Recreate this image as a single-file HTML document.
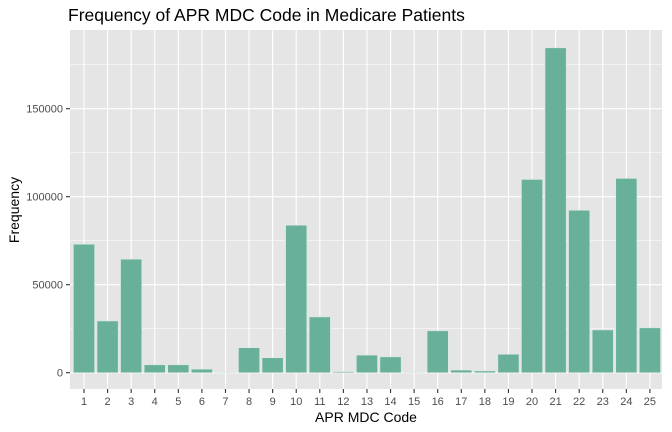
<!DOCTYPE html>
<html><head><meta charset="utf-8"><style>body{margin:0;background:#fff}svg{display:block;font-family:"Liberation Sans",sans-serif}</style></head>
<body>
<svg id="chart" width="672" height="432" viewBox="0 0 672 432">
<rect width="672" height="432" fill="#fff"/>
<text x="68" y="21" font-size="17.5" fill="#000">Frequency of APR MDC Code in Medicare Patients</text>
<rect x="70" y="30" width="592" height="359" fill="#e5e5e5"/>
<g id="grid"></g><g id="bars"></g><g id="axes"></g>
<text x="366" y="422" font-size="14" text-anchor="middle">APR MDC Code</text>
<text transform="translate(19,210) rotate(-90)" font-size="14" text-anchor="middle">Frequency</text>
</svg>
<script>
const categories=["1","2","3","4","5","6","7","8","9","10","11","12","13","14","15","16","17","18","19","20","21","22","23","24","25"];
const values=[73000,29400,64500,4500,4500,2000,100,14200,8500,83800,31700,600,10000,9000,100,23800,1500,1000,10500,109800,184600,92300,24300,110400,25500];
const yTicks=[0,50000,100000,150000];
const yTickLabels=["0","50000","100000","150000"];
const NS="http://www.w3.org/2000/svg";
const y0=372.7,pxPer=88/50000;
const y=v=>y0-v*pxPer;
const x0=84,step=23.58;
const x=i=>x0+i*step;
const bw=21.2;
function mk(t,a,p){const e=document.createElementNS(NS,t);for(const k in a)e.setAttribute(k,a[k]);p.appendChild(e);return e;}
const grid=document.getElementById('grid'),bars=document.getElementById('bars'),axes=document.getElementById('axes');
for(let k=0;k<yTicks.length;k++){
 const l=mk('line',{x1:70,x2:662,y1:y(yTicks[k]),y2:y(yTicks[k]),stroke:'#fff','stroke-width':1.1},grid);
 
 
 if(k<yTicks.length-1){const m=mk('line',{x1:70,x2:662,y1:y(yTicks[k]+25000),y2:y(yTicks[k]+25000),stroke:'#fff','stroke-width':0.5},grid);
 
 }
 const tk=mk('line',{x1:66,x2:70,y1:y(yTicks[k]),y2:y(yTicks[k]),stroke:'#333','stroke-width':1.1},axes);
 
 
 const t=mk('text',{x:63,y:y(yTicks[k])+4,'font-size':11,'text-anchor':'end',fill:'#4d4d4d'},axes);
 
 
 t.textContent=yTickLabels[k];
}
{const m=mk('line',{x1:70,x2:662,y1:y(175000),y2:y(175000),stroke:'#fff','stroke-width':0.5},grid);

}
categories.forEach((c,i)=>{
 const g=mk('line',{x1:x(i),x2:x(i),y1:30,y2:389,stroke:'#fff','stroke-width':1.1},grid);
 
 
 const b=mk('rect',{x:x(i)-bw/2,y:y(values[i]),width:bw,height:values[i]*pxPer,fill:'#69b09b',stroke:'#d8e8e2','stroke-width':0.6},bars);
 
 
 const tk=mk('line',{x1:x(i),x2:x(i),y1:389,y2:393,stroke:'#333','stroke-width':1.1},axes);
 
 
 const t=mk('text',{x:x(i),y:405,'font-size':11,'text-anchor':'middle',fill:'#4d4d4d'},axes);
 
 
 t.textContent=c;
});
</script>
</body></html>
